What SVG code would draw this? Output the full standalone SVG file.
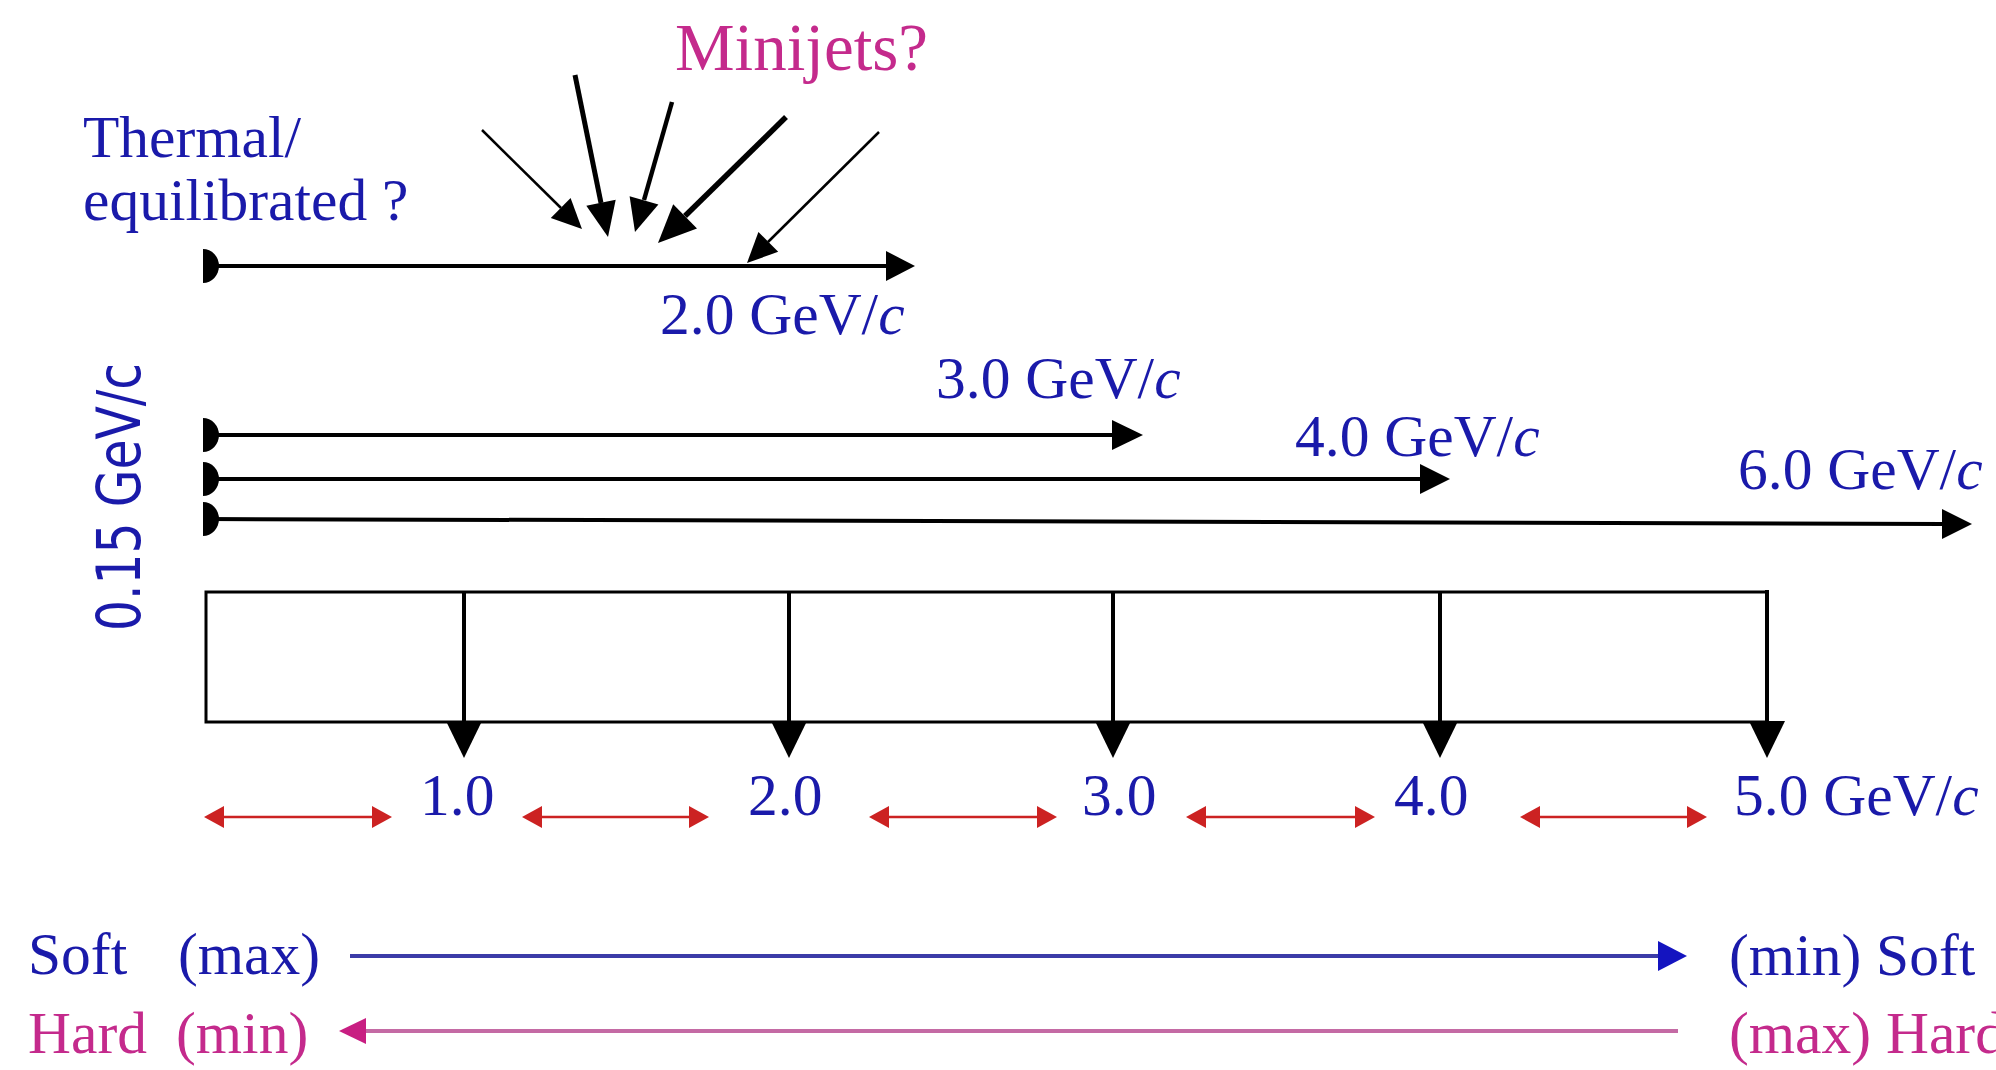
<svg xmlns="http://www.w3.org/2000/svg" width="1996" height="1070" viewBox="0 0 1996 1070">
<style>
.t{font-family:"Liberation Serif","Times New Roman",serif;font-size:59.5px;fill:#1a1aaa}
.m{fill:#c42a8c}
.ln{stroke:#000;fill:none}
.hd{fill:#000}
.red{stroke:#cc2222;stroke-width:2.5;fill:none}
.redh{fill:#cc2222}
</style>
<rect width="1996" height="1070" fill="#fff"/>
<g id="label-minijets"><text class="t m" x="675" y="70" style="font-size:67px">Minijets?</text></g>
<g id="label-thermal"><text class="t" x="83" y="157">Thermal/</text><text class="t" x="83" y="220">equilibrated ?</text></g>
<g id="label-2gev"><text class="t" x="660" y="334">2.0 GeV/<tspan font-style="italic">c</tspan></text></g>
<g id="label-3gev"><text class="t" x="936" y="398">3.0 GeV/<tspan font-style="italic">c</tspan></text></g>
<g id="label-4gev"><text class="t" x="1295" y="456">4.0 GeV/<tspan font-style="italic">c</tspan></text></g>
<g id="label-6gev"><text class="t" x="1738" y="489">6.0 GeV/<tspan font-style="italic">c</tspan></text></g>
<g id="label-015"><text x="0" y="0" transform="translate(140,631) rotate(-90)" style="font-family:'DejaVu Sans Condensed','DejaVu Sans',sans-serif;font-size:60px;fill:#1a1aaa" textLength="268" lengthAdjust="spacingAndGlyphs">0.15 GeV/c</text></g>
<g id="box"><rect x="206" y="592" width="1561" height="130" fill="none" stroke="#000" stroke-width="3"/></g>
<g id="tick-labels">
<text class="t" x="420" y="815">1.0</text>
<text class="t" x="748" y="815">2.0</text>
<text class="t" x="1082" y="815">3.0</text>
<text class="t" x="1394" y="815">4.0</text>
<text class="t" x="1734" y="815">5.0 GeV/<tspan font-style="italic">c</tspan></text>
</g>
<g id="legend">
<text class="t" x="28" y="974">Soft</text><text class="t" x="178" y="974">(max)</text>
<text class="t m" x="28" y="1053">Hard</text><text class="t m" x="176" y="1053">(min)</text>
<text class="t" x="1729" y="975">(min) Soft</text>
<text class="t m" x="1729" y="1053">(max) Hard</text>
</g>
<g id="connectors">
<path class="ln" stroke-width="4" d="M205 266 H887"/>
<path class="hd" d="M203 249 A16 17 0 0 1 203 283 Z"/>
<polygon class="hd" points="915,266 886,251 886,281"/>
<path class="ln" stroke-width="4" d="M205 435 H1114"/>
<path class="hd" d="M203 418 A16 17 0 0 1 203 452 Z"/>
<polygon class="hd" points="1143,435 1112,420 1112,450"/>
<path class="ln" stroke-width="4" d="M205 479 H1422"/>
<path class="hd" d="M203 462 A16 17 0 0 1 203 496 Z"/>
<polygon class="hd" points="1450,479 1420,464 1420,494"/>
<path class="ln" stroke-width="4" d="M205 519 L1944 524"/>
<path class="hd" d="M203 502 A16 17 0 0 1 203 536 Z"/>
<polygon class="hd" points="1972,524 1942,509 1942,539"/>
<path class="ln" stroke-width="2.5" d="M482 130 L561 208"/>
<polygon class="hd" points="582,229 550.8,217.9 570.6,197.9"/>
<path class="ln" stroke-width="5" d="M575 75 L601 203"/>
<polygon class="hd" points="608,237 586.3,205.7 615.7,199.7"/>
<path class="ln" stroke-width="4.5" d="M672 102 L644 200"/>
<polygon class="hd" points="635,232 629.6,196.2 658.4,204.4"/>
<path class="ln" stroke-width="5.5" d="M786 117 L685 216"/>
<polygon class="hd" points="658,243 673.2,204.2 697,228.4"/>
<path class="ln" stroke-width="2.5" d="M879 132 L768 242"/>
<polygon class="hd" points="747,263 758.4,232 778.2,251.8"/>
<g stroke="#000" stroke-width="4">
<path d="M464 592 V725"/><path d="M789 592 V725"/><path d="M1113 592 V725"/><path d="M1440 592 V725"/><path d="M1767 590 V725"/>
</g>
<polygon class="hd" points="446,721 482,721 464,758"/>
<polygon class="hd" points="771,721 807,721 789,758"/>
<polygon class="hd" points="1095,721 1131,721 1113,758"/>
<polygon class="hd" points="1422,721 1458,721 1440,758"/>
<polygon class="hd" points="1749,721 1785,721 1767,758"/>
<g>
<path class="red" d="M222 817 H374"/><polygon class="redh" points="204,817 224,806 224,828"/><polygon class="redh" points="392,817 372,806 372,828"/>
<path class="red" d="M540 817 H691"/><polygon class="redh" points="522,817 542,806 542,828"/><polygon class="redh" points="709,817 689,806 689,828"/>
<path class="red" d="M887 817 H1039"/><polygon class="redh" points="869,817 889,806 889,828"/><polygon class="redh" points="1057,817 1037,806 1037,828"/>
<path class="red" d="M1204 817 H1357"/><polygon class="redh" points="1186,817 1206,806 1206,828"/><polygon class="redh" points="1375,817 1355,806 1355,828"/>
<path class="red" d="M1538 817 H1689"/><polygon class="redh" points="1520,817 1540,806 1540,828"/><polygon class="redh" points="1707,817 1687,806 1687,828"/>
</g>
<path d="M350 956 H1660" stroke="#3c3ca8" stroke-width="4" fill="none"/>
<polygon points="1687,956 1658,941 1658,971" fill="#1414c0"/>
<path d="M1678 1031 H364" stroke="#c46aa4" stroke-width="4" fill="none"/>
<polygon points="339,1031 366,1018 366,1044" fill="#c81e82"/>
</g>
</svg>
